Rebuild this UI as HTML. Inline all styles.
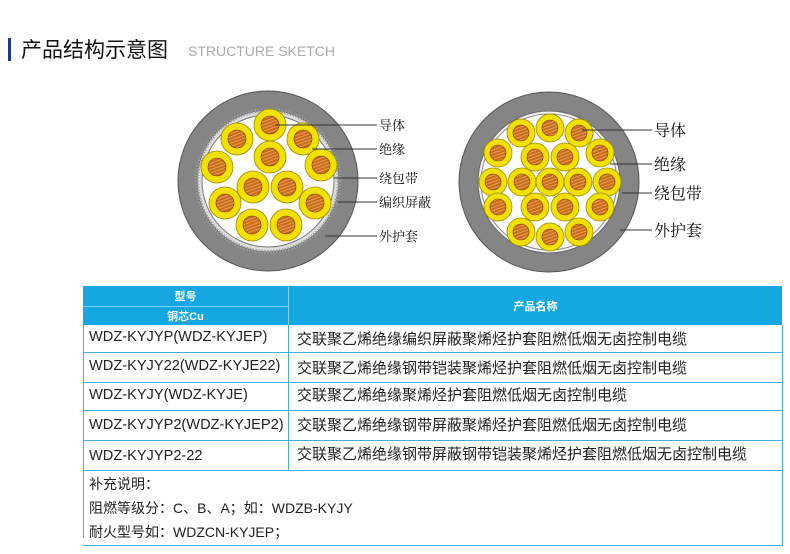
<!DOCTYPE html>
<html><head><meta charset="utf-8"><style>
body{margin:0;width:790px;height:554px;background:#fff;position:relative;overflow:hidden;font-family:"Liberation Sans","Noto Sans CJK SC",sans-serif}
.a{position:absolute;white-space:nowrap}
.cell{position:absolute;font-size:15px;color:#222;white-space:nowrap}
.m{font-size:14.6px}
</style></head><body>
<div class="a" style="left:8px;top:38px;width:3px;height:23px;background:#1d3a8a"></div>
<div class="a" style="left:21px;top:34px;font-size:21px;color:#111">产品结构示意图</div>
<div class="a" style="left:188px;top:43px;font-size:14px;color:#aaa">STRUCTURE SKETCH</div>

<svg class="a" style="left:0;top:0" width="790" height="285">
<defs>
<pattern id="cu" width="3" height="3" patternUnits="userSpaceOnUse" patternTransform="rotate(-20)">
<rect width="3" height="3" fill="#c86a1c"/><rect width="3" height="1" fill="#e7a050"/></pattern>
</defs>
<circle cx="268" cy="181" r="90" fill="#858585" stroke="#555"/>
<circle cx="268" cy="181" r="71" fill="#ddd" stroke="#666"/>
<circle cx="268" cy="181" r="71" fill="none" stroke="#999" stroke-width="4" stroke-dasharray="1.5 1.5"/>
<circle cx="268" cy="181" r="66" fill="#fff" stroke="#777"/>
<g fill="#f2e000" stroke="#9a8a00" stroke-width="0.8">
<circle cx="270" cy="125" r="16"/><circle cx="237" cy="139" r="16"/><circle cx="303" cy="139" r="16"/><circle cx="270" cy="157" r="16"/>
<circle cx="217" cy="167" r="16"/><circle cx="321" cy="165" r="16"/><circle cx="253" cy="187" r="16"/><circle cx="287" cy="187" r="16"/>
<circle cx="225" cy="203" r="16"/><circle cx="315" cy="203" r="16"/><circle cx="252" cy="225" r="16"/><circle cx="286" cy="225" r="16"/>
</g>
<g fill="url(#cu)" stroke="#7a3a00" stroke-width="0.6">
<circle cx="270" cy="125" r="9"/><circle cx="237" cy="139" r="9"/><circle cx="303" cy="139" r="9"/><circle cx="270" cy="157" r="9"/>
<circle cx="217" cy="167" r="9"/><circle cx="321" cy="165" r="9"/><circle cx="253" cy="187" r="9"/><circle cx="287" cy="187" r="9"/>
<circle cx="225" cy="203" r="9"/><circle cx="315" cy="203" r="9"/><circle cx="252" cy="225" r="9"/><circle cx="286" cy="225" r="9"/>
</g>
<g stroke="#333" stroke-width="1">
<line x1="275" y1="125" x2="377" y2="125"/><line x1="312" y1="149" x2="377" y2="149"/>
<line x1="334" y1="178" x2="377" y2="178"/><line x1="338" y1="202" x2="377" y2="202"/>
<line x1="325" y1="236" x2="377" y2="236"/>
</g>
<g font-family="Noto Serif CJK SC,serif" font-size="13" fill="#111">
<text x="379" y="130">导体</text><text x="379" y="154">绝缘</text><text x="379" y="183">绕包带</text>
<text x="379" y="207">编织屏蔽</text><text x="379" y="241">外护套</text></g>

<circle cx="549" cy="182" r="90" fill="#858585" stroke="#555"/>
<circle cx="549" cy="182" r="71" fill="#f4f4f4" stroke="#666"/>
<circle cx="549" cy="182" r="68" fill="#fff" stroke="#888"/>
<g fill="#f2e000" stroke="#9a8a00" stroke-width="0.8">
<circle cx="550" cy="128" r="14"/><circle cx="521" cy="133" r="14"/><circle cx="579" cy="133" r="14"/>
<circle cx="498" cy="153" r="14"/><circle cx="535" cy="157" r="14"/><circle cx="565" cy="157" r="14"/><circle cx="600" cy="153" r="14"/>
<circle cx="493" cy="182" r="14"/><circle cx="522" cy="182" r="14"/><circle cx="550" cy="182" r="14"/><circle cx="578" cy="182" r="14"/><circle cx="607" cy="182" r="14"/>
<circle cx="498" cy="207" r="14"/><circle cx="535" cy="207" r="14"/><circle cx="565" cy="207" r="14"/><circle cx="600" cy="207" r="14"/>
<circle cx="521" cy="232" r="14"/><circle cx="550" cy="237" r="14"/><circle cx="579" cy="232" r="14"/>
</g>
<g fill="url(#cu)" stroke="#7a3a00" stroke-width="0.6">
<circle cx="550" cy="128" r="8"/><circle cx="521" cy="133" r="8"/><circle cx="579" cy="133" r="8"/>
<circle cx="498" cy="153" r="8"/><circle cx="535" cy="157" r="8"/><circle cx="565" cy="157" r="8"/><circle cx="600" cy="153" r="8"/>
<circle cx="493" cy="182" r="8"/><circle cx="522" cy="182" r="8"/><circle cx="550" cy="182" r="8"/><circle cx="578" cy="182" r="8"/><circle cx="607" cy="182" r="8"/>
<circle cx="498" cy="207" r="8"/><circle cx="535" cy="207" r="8"/><circle cx="565" cy="207" r="8"/><circle cx="600" cy="207" r="8"/>
<circle cx="521" cy="232" r="8"/><circle cx="550" cy="237" r="8"/><circle cx="579" cy="232" r="8"/>
</g>
<g stroke="#333" stroke-width="1">
<line x1="582" y1="130" x2="652" y2="130"/><line x1="610" y1="164" x2="652" y2="164"/>
<line x1="622" y1="193" x2="652" y2="193"/><line x1="620" y1="230" x2="652" y2="230"/>
</g>
<g font-family="Noto Serif CJK SC,serif" font-size="16" fill="#111">
<text x="654" y="136">导体</text><text x="654" y="170">绝缘</text><text x="654" y="199">绕包带</text><text x="654" y="236">外护套</text></g>
</svg>

<div class="a" style="left:83px;top:286px;width:699px;height:39px;background:#14a7e2"></div>
<div class="a" style="left:83px;top:306px;width:205px;height:1px;background:#7fd0f0"></div>
<div class="a" style="left:288px;top:286px;width:1px;height:39px;background:#7fd0f0"></div>
<div class="a" style="left:83px;top:288px;width:205px;text-align:center;font-size:11px;font-weight:bold;color:#fff">型号</div>
<div class="a" style="left:83px;top:308px;width:205px;text-align:center;font-size:11px;font-weight:bold;color:#fff">铜芯Cu</div>
<div class="a" style="left:289px;top:298px;width:493px;text-align:center;font-size:11px;font-weight:bold;color:#fff">产品名称</div>

<div class="a" style="left:83px;top:325px;width:698px;height:145px;border:1px solid #40aede;border-top:none"></div>
<div class="a" style="left:83px;top:352px;width:700px;height:1px;background:#40aede"></div>
<div class="a" style="left:83px;top:382px;width:700px;height:1px;background:#40aede"></div>
<div class="a" style="left:83px;top:410px;width:700px;height:1px;background:#40aede"></div>
<div class="a" style="left:83px;top:440px;width:700px;height:1px;background:#40aede"></div>
<div class="a" style="left:83px;top:470px;width:700px;height:1px;background:#40aede"></div>
<div class="a" style="left:288px;top:325px;width:1px;height:145px;background:#40aede"></div>
<div class="a" style="left:83px;top:470px;width:1px;height:68px;background:#40aede"></div>
<div class="a" style="left:782px;top:470px;width:1px;height:76px;background:#40aede"></div>
<div class="a" style="left:83px;top:545px;width:700px;height:1px;background:#40aede"></div>

<div class="cell m" style="left:89px;top:329px">WDZ-KYJYP(WDZ-KYJEP)</div>
<div class="cell m" style="left:89px;top:358px">WDZ-KYJY22(WDZ-KYJE22)</div>
<div class="cell m" style="left:89px;top:387px">WDZ-KYJY(WDZ-KYJE)</div>
<div class="cell m" style="left:89px;top:417px">WDZ-KYJYP2(WDZ-KYJEP2)</div>
<div class="cell m" style="left:89px;top:448px">WDZ-KYJYP2-22</div>
<div class="cell" style="left:297px;top:328px">交联聚乙烯绝缘编织屏蔽聚烯烃护套阻燃低烟无卤控制电缆</div>
<div class="cell" style="left:297px;top:357px">交联聚乙烯绝缘钢带铠装聚烯烃护套阻燃低烟无卤控制电缆</div>
<div class="cell" style="left:297px;top:384px">交联聚乙烯绝缘聚烯烃护套阻燃低烟无卤控制电缆</div>
<div class="cell" style="left:297px;top:414px">交联聚乙烯绝缘钢带屏蔽聚烯烃护套阻燃低烟无卤控制电缆</div>
<div class="cell" style="left:297px;top:443px">交联聚乙烯绝缘钢带屏蔽钢带铠装聚烯烃护套阻燃低烟无卤控制电缆</div>

<div class="cell" style="left:89px;top:474px;font-size:14px">补充说明：</div>
<div class="cell" style="left:89px;top:498px;font-size:14px">阻燃等级分：C、B、A；如：WDZB-KYJY</div>
<div class="cell" style="left:89px;top:522px;font-size:14px">耐火型号如：WDZCN-KYJEP；</div>
</body></html>
